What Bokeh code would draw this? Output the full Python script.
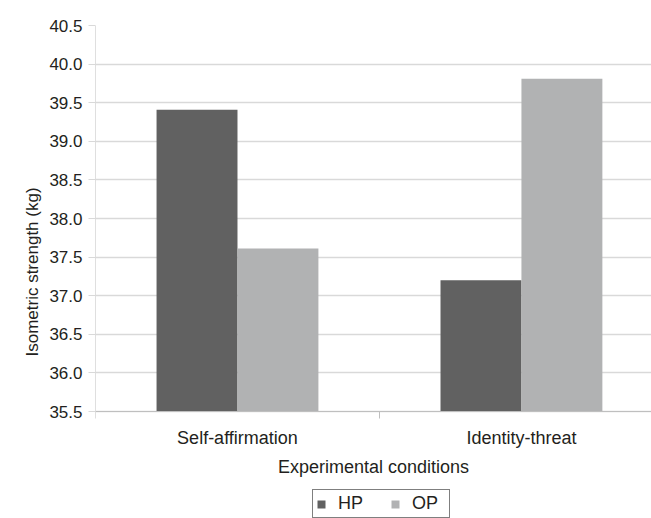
from bokeh.plotting import figure
from bokeh.models import ColumnDataSource, FixedTicker, Legend, LegendItem, NumeralTickFormatter, Range1d
from bokeh.embed import file_html
from bokeh.resources import INLINE

categories = ["Self-affirmation", "Identity-threat"]
series = ["HP", "OP"]
hp_values = [39.41, 37.20]
op_values = [37.61, 39.81]
y_ticks = [35.5, 36.0, 36.5, 37.0, 37.5, 38.0, 38.5, 39.0, 39.5, 40.0, 40.5]

HP_COLOR = "#616161"
OP_COLOR = "#b1b2b3"
TEXT = "#231f20"
FONT = "Liberation Sans"

y_min, y_max = y_ticks[0], y_ticks[-1]
centers = [i + 0.5 for i in range(len(categories))]
bw = 0.285

# frame extends below the value axis to leave room for the labels and the legend
p = figure(width=651, height=518, output_backend="svg", toolbar_location=None,
           x_range=Range1d(0, 1.958), y_range=Range1d(34.114, y_max),
           min_border_left=95, min_border_top=25, min_border_right=0, min_border_bottom=0)
p.outline_line_color = None
p.background_fill_color = "white"

src_hp = ColumnDataSource(dict(x=[c - bw / 2 for c in centers], top=hp_values))
src_op = ColumnDataSource(dict(x=[c + bw / 2 for c in centers], top=op_values))
r_hp = p.vbar(x="x", top="top", bottom=y_min, width=bw, source=src_hp, fill_color=HP_COLOR, line_color=None)
r_op = p.vbar(x="x", top="top", bottom=y_min, width=bw, source=src_op, fill_color=OP_COLOR, line_color=None)

# vertical axis line only over the value range
p.segment(x0=[0], y0=[y_min], x1=[0], y1=[y_max], line_color="#bfbfbf", line_width=1)

# x axis
p.xaxis.fixed_location = y_min
p.xaxis.ticker = FixedTicker(ticks=centers, minor_ticks=[0, 1, 2])
p.xaxis.major_label_overrides = {c: n for c, n in zip(centers, categories)}
p.xaxis.major_tick_line_color = None
p.xaxis.major_tick_out = 0
p.xaxis.major_tick_in = 0
p.xaxis.minor_tick_out = 7
p.xaxis.minor_tick_in = 0
p.xaxis.minor_tick_line_color = "#bfbfbf"
p.xaxis.axis_line_color = "#bfbfbf"
p.xaxis.major_label_text_font = FONT
p.xaxis.major_label_text_font_size = "18px"
p.xaxis.major_label_text_color = TEXT
p.xaxis.major_label_standoff = 9
p.xaxis.axis_label = "Experimental conditions"
p.xaxis.axis_label_text_font = FONT
p.xaxis.axis_label_text_font_size = "18px"
p.xaxis.axis_label_text_font_style = "normal"
p.xaxis.axis_label_text_color = TEXT
p.xaxis.axis_label_standoff = 6
p.xgrid.grid_line_color = None

# y axis
p.yaxis.ticker = FixedTicker(ticks=y_ticks)
p.yaxis.formatter = NumeralTickFormatter(format="0.0")
p.yaxis.major_tick_out = 7
p.yaxis.major_tick_in = 0
p.yaxis.major_tick_line_color = "#d9d9d9"
p.yaxis.minor_tick_line_color = None
p.yaxis.axis_line_color = None
p.yaxis.major_label_text_font = FONT
p.yaxis.major_label_text_font_size = "17px"
p.yaxis.major_label_text_color = TEXT
p.yaxis.major_label_standoff = 6
p.yaxis.axis_label = "Isometric strength (kg)"
p.yaxis.axis_label_text_font = FONT
p.yaxis.axis_label_text_font_size = "17px"
p.yaxis.axis_label_text_font_style = "normal"
p.yaxis.axis_label_text_color = TEXT
p.yaxis.axis_label_standoff = 4
p.ygrid.grid_line_color = "#d9d9d9"
p.ygrid.grid_line_width = 1.5

legend = Legend(items=[LegendItem(label=series[0], renderers=[r_hp]),
                       LegendItem(label=series[1], renderers=[r_op])],
                orientation="horizontal", location=(217, 0),
                border_line_color="black", border_line_width=1,
                label_text_font=FONT, label_text_font_size="18px", label_text_color=TEXT,
                glyph_width=10, glyph_height=10, spacing=18, padding=3, margin=0,
                label_standoff=12, label_height=18, label_width=34)
p.add_layout(legend, "center")

open("out.html", "w").write(file_html(p, INLINE))
